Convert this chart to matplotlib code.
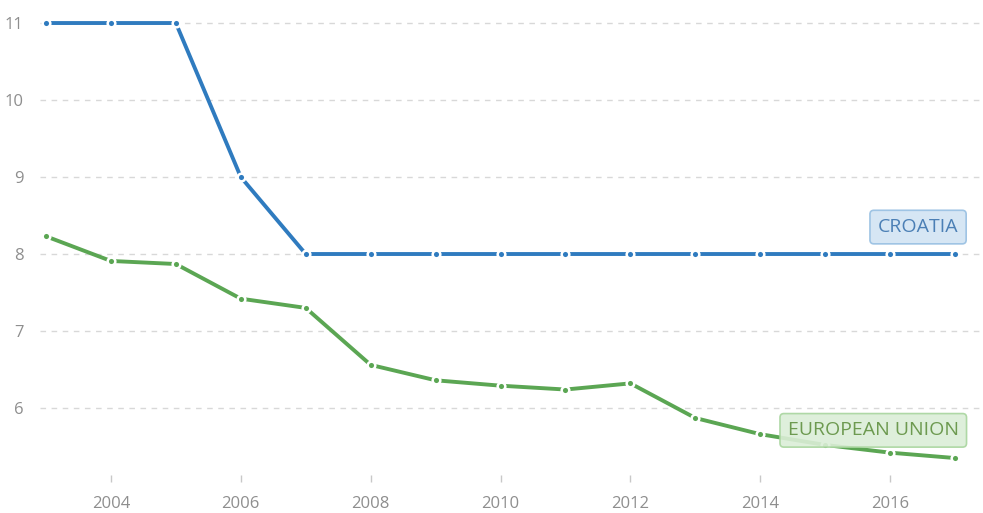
import numpy as np
import matplotlib
matplotlib.use("Agg")
import matplotlib.pyplot as plt

plt.rcParams['font.family'] = ['Open Sans', 'DejaVu Sans']

# data
years = list(range(2003, 2018))
croatia = [11, 11, 11, 9, 8, 8, 8, 8, 8, 8, 8, 8, 8, 8, 8]
eu = [8.23, 7.91, 7.87, 7.42, 7.30, 6.56, 6.36, 6.29, 6.24, 6.32,
      5.87, 5.66, 5.52, 5.42, 5.35]
x_ticks = [2004, 2006, 2008, 2010, 2012, 2014, 2016]
y_ticks = [6, 7, 8, 9, 10, 11]

blue = '#2f7bbf'
green = '#5ba653'

fig = plt.figure(figsize=(9.83, 5.13), dpi=100)
W, H = 983, 513
ax = fig.add_axes([40 / W, (H - 475) / H, (W - 40) / W, 475 / H])

for ys, c in [(croatia, blue), (eu, green)]:
    ax.plot(years, ys, color=c, lw=2.8, marker='o', ms=5.5,
            markerfacecolor=c, markeredgecolor='white', markeredgewidth=1.8,
            solid_joinstyle='round', zorder=3)

ax.set_xlim(2002.908, 2017.43)
ax.set_ylim(5.13, 11.299)
ax.set_xticks(x_ticks)
ax.set_yticks(y_ticks)
ax.grid(axis='y', color='#d8d8d8', linestyle=(0, (4, 4)), lw=1)
ax.grid(axis='x', visible=False)
for s in ax.spines.values():
    s.set_visible(False)
ax.tick_params(axis='y', length=0, pad=12, labelsize=12, labelcolor='#8e8e8e')
ax.tick_params(axis='x', length=5, width=1, color='#c8c8c8', pad=10,
               labelsize=12, labelcolor='#8e8e8e')

ax.text(2016.43, 8.35, 'CROATIA', color='#4b7fb5', fontsize=14,
        ha='center', va='center', zorder=5,
        bbox=dict(boxstyle='round,pad=0.4,rounding_size=0.2',
                  fc='#d6e6f4', ec='#9fc4e4', lw=1.2))
ax.text(2015.74, 5.71, 'EUROPEAN UNION', color='#6d9a50', fontsize=14,
        ha='center', va='center', zorder=5,
        bbox=dict(boxstyle='round,pad=0.4,rounding_size=0.2',
                  fc='#dbeed7', ec='#a8d59e', lw=1.2, alpha=0.9))

fig.savefig('out.png', dpi=100)
